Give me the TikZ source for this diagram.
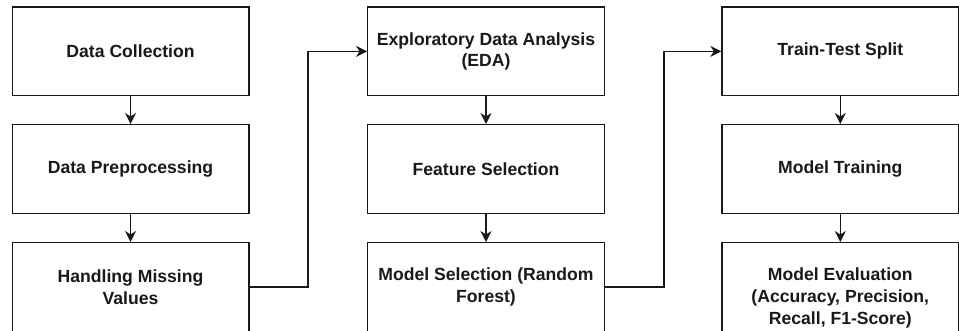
\documentclass[tikz,border=0pt]{standalone}
\usepackage{fontspec}
\setmainfont{Liberation Sans}
\usetikzlibrary{arrows.meta}
\begin{document}
\begin{tikzpicture}[x=1pt,y=-1pt,
  box/.style={draw=black!90,line width=1.4pt,rectangle,minimum width=236.5pt,minimum height=88.7pt,
    align=center,font=\fontsize{17.6pt}{21.8pt}\selectfont\bfseries,text=black!90,inner sep=0pt},
  conn/.style={draw=black!90,line width=1.4pt,-{Stealth[length=11pt,width=11pt,inset=3.5pt]}}]
\useasboundingbox (0,0) rectangle (959,330);
% column 1
\node[box] (dc)  at (130.55,51.35)  {Data Collection};
\node[box] (dp)  at (130.55,169.05) {Data Preprocessing};
\node[box] (hmv) at (130.55,287.05) {Handling Missing\\Values};
% column 2
\node[box] (eda) at (486,51.35)  {Exploratory Data Analysis\\(EDA)};
\node[box] (fs)  at (486,169.05) {Feature Selection};
\node[box] (ms)  at (486,287.05) {Model Selection (Random\\Forest)};
% column 3
\node[box] (tts) at (840.3,51.35)  {Train-Test Split};
\node[box] (mt)  at (840.3,169.05) {Model Training};
\node[box,minimum height=110pt] (me) at (840.3,297.7) {Model Evaluation\\(Accuracy, Precision,\\Recall, F1-Score)};
% connectors
\draw[conn] (dc) -- (dp);
\draw[conn] (dp) -- (hmv);
\draw[conn] (eda) -- (fs);
\draw[conn] (fs) -- (ms);
\draw[conn] (tts) -- (mt);
\draw[conn] (mt) -- (me.north);
\draw[conn] (hmv.east) -- ++(58.3,0) |- (eda.west);
\draw[conn] (ms.east) -- ++(59,0) |- (tts.west);
\end{tikzpicture}
\end{document}
